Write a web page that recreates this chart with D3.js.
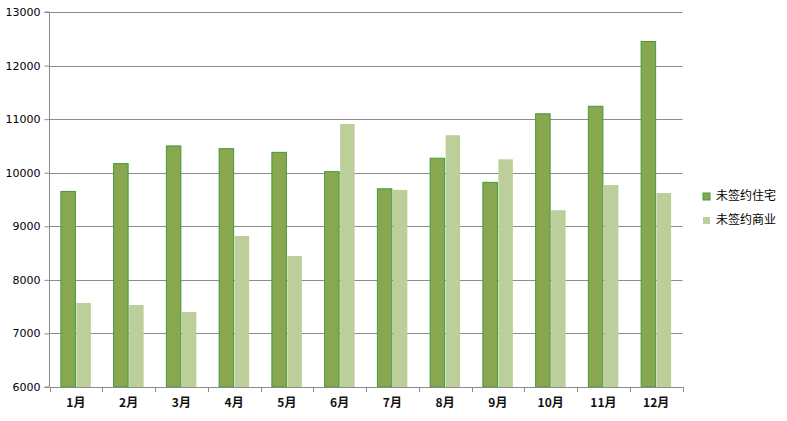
<!DOCTYPE html>
<html><head><meta charset="utf-8">
<script src="https://cdn.jsdelivr.net/npm/d3@7"></script>
<style>body{margin:0;background:#fff}svg{display:block}</style>
</head><body><svg id="c" width="787" height="421"></svg>
<script>
const months = ["1月","2月","3月","4月","5月","6月","7月","8月","9月","10月","11月","12月"];
const seriesNames = ["未签约住宅","未签约商业"];
const residential = [9650,10170,10500,10450,10380,10020,9700,10270,9820,11100,11240,12450];
const commercial = [7570,7530,7400,8820,8445,10910,9680,10700,10250,9300,9770,9620];
const yTicks = [6000,7000,8000,9000,10000,11000,12000,13000];

const svg = d3.select("#c");
const m = {l:49.5, r:682.5, t:12, b:387};
const x = d3.scaleBand().domain(months).range([m.l, m.r]);
const y = d3.scaleLinear().domain([6000,13000]).range([m.b, m.t]);
const font = "'DejaVu Sans', Verdana, sans-serif";

svg.append("g").selectAll("line").data(yTicks.slice(1)).join("line")
  .attr("x1", m.l).attr("x2", m.r)
  .attr("y1", d=>Math.round(y(d))+0.5).attr("y2", d=>Math.round(y(d))+0.5)
  .attr("stroke","#8c8c8c").attr("stroke-width",1);

const bw = 14.5;
const fills = ["#89a74f","#bccf9a"];
svg.append("g").selectAll("rect").data(commercial).join("rect")
  .attr("x",(d,i)=>x(months[i])+x.bandwidth()/2+0.5)
  .attr("y",d=>y(d)).attr("width",bw).attr("height",d=>m.b-y(d))
  .attr("fill",fills[1]);
svg.append("g").selectAll("rect").data(residential).join("rect")
  .attr("x",(d,i)=>x(months[i])+x.bandwidth()/2-bw-0.5)
  .attr("y",d=>y(d)).attr("width",bw).attr("height",d=>m.b-y(d))
  .attr("fill",fills[0]).attr("stroke","#3f9b3f").attr("stroke-width",1);

const ya = svg.append("g").attr("transform",`translate(${m.l},0)`)
  .call(d3.axisLeft(y).tickValues(yTicks).tickSize(5).tickFormat(d3.format("d")));
ya.select(".domain").attr("stroke","#8c8c8c").attr("d",`M-5,${m.t}H0V${m.b}H-5`);
ya.selectAll(".tick line").attr("stroke","#8c8c8c");
ya.selectAll("text").attr("font-family",font).attr("font-size",11).attr("fill","#000").attr("x",-9);

const xa = svg.append("g").attr("transform",`translate(0,${m.b})`)
  .call(d3.axisBottom(x).tickSize(0).tickSizeOuter(0));
xa.select(".domain").attr("stroke","#8c8c8c");
xa.selectAll("text").attr("font-family","'Noto Sans CJK SC', sans-serif").attr("font-size",12)
  .attr("font-weight","bold").attr("fill","#111").attr("dy","1.45em");
const edges = months.map(d=>x(d)).concat([m.r]);
svg.append("g").selectAll("line").data(edges).join("line")
  .attr("x1",d=>Math.round(d)+0.5).attr("x2",d=>Math.round(d)+0.5)
  .attr("y1",m.b).attr("y2",m.b+5).attr("stroke","#8c8c8c");

const lg = svg.append("g").selectAll("g").data(seriesNames).join("g")
  .attr("transform",(d,i)=>`translate(703,${193+i*24})`);
lg.append("rect").attr("width",7).attr("height",7)
  .attr("fill",(d,i)=>fills[i]).attr("stroke",(d,i)=>i===0?"#3f9b3f":"none");
lg.append("text").attr("x",13).attr("y",3).attr("dy","0.35em")
  .attr("font-family","'Noto Sans CJK SC', sans-serif").attr("font-size",12).text(d=>d);
</script></body></html>
